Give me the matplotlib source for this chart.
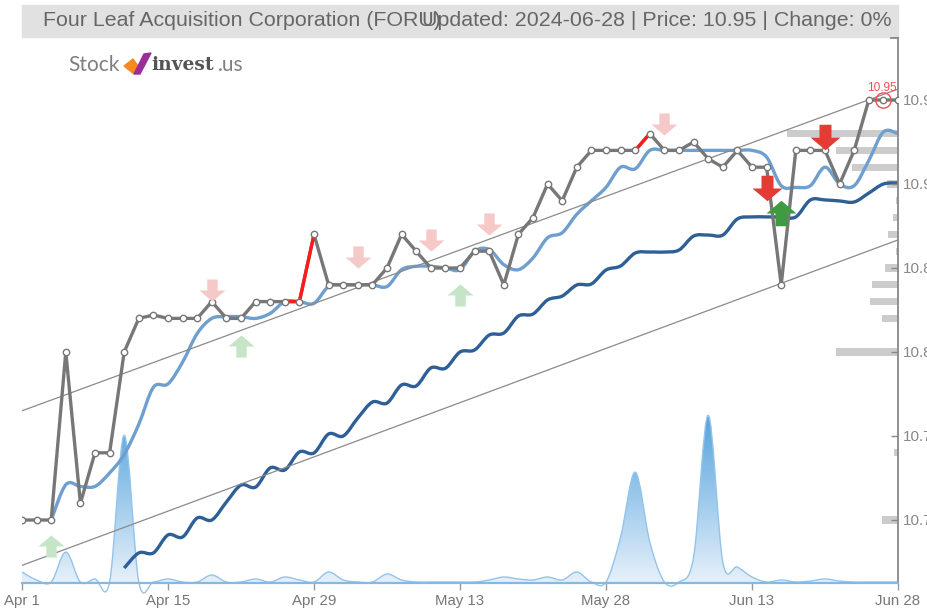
import numpy as np
import matplotlib
matplotlib.use("Agg")
import matplotlib.pyplot as plt
from matplotlib.path import Path
from matplotlib.patches import PathPatch, Rectangle, Polygon
from matplotlib.colors import LinearSegmentedColormap

# --- donnees (index = jour de bourse) ---
tick_idx = [0, 10, 20, 30, 40, 50, 60]
tick_labels = ["Apr 1", "Apr 15", "Apr 29", "May 13", "May 28", "Jun 13", "Jun 28"]

price = [10.70, 10.70, 10.70, 10.80, 10.71, 10.74, 10.74, 10.80, 10.82, 10.822,
         10.82, 10.82, 10.82, 10.83, 10.82, 10.82, 10.83, 10.83, 10.83, 10.83,
         10.87, 10.84, 10.84, 10.84, 10.84, 10.85, 10.87, 10.86, 10.85, 10.85,
         10.85, 10.86, 10.86, 10.84, 10.87, 10.88, 10.90, 10.89, 10.91, 10.92,
         10.92, 10.92, 10.92, 10.93, 10.92, 10.92, 10.925, 10.915, 10.91, 10.92,
         10.91, 10.91, 10.84, 10.92, 10.92, 10.92, 10.90, 10.92, 10.95, 10.95,
         10.95]

ma_fast = [np.nan, np.nan, 10.700, 10.721, 10.720, 10.720, 10.728, 10.739, 10.757, 10.779,
           10.781, 10.794, 10.811, 10.820, 10.821, 10.821, 10.820, 10.823, 10.830, 10.830,
           10.829, 10.839, 10.840, 10.840, 10.840, 10.839, 10.849, 10.851, 10.851, 10.850,
           10.849, 10.860, 10.861, 10.852, 10.849, 10.856, 10.868, 10.871, 10.882, 10.890,
           10.898, 10.910, 10.909, 10.920, 10.920, 10.920, 10.920, 10.920, 10.920, 10.920,
           10.920, 10.916, 10.899, 10.898, 10.899, 10.910, 10.900, 10.899, 10.914, 10.931,
           10.930]

ma_slow = [np.nan] * 7 + [
    10.6714, 10.6804, 10.6804,
    10.6911, 10.6899, 10.7012, 10.7000, 10.7107, 10.7208, 10.7196, 10.7310, 10.7298, 10.7405,
    10.7399, 10.7512, 10.7500, 10.7607, 10.7702, 10.7696, 10.7804, 10.7798, 10.7905, 10.7903,
    10.8000, 10.8012, 10.8101, 10.8113, 10.8214, 10.8226, 10.8310, 10.8333, 10.8399, 10.8405,
    10.8488, 10.8512, 10.8589, 10.8595, 10.8595, 10.8607, 10.8690, 10.8696, 10.8696, 10.8792,
    10.8804, 10.8804, 10.8804, 10.8804, 10.8905, 10.8905, 10.8899, 10.8893, 10.8946, 10.9000,
    10.9006]

volume = [10, 2, 0, 30, 0, 3, 0, 147, 0, 0,
          3, 0, 0, 7, 0, 0, 3, 0, 5, 2,
          0, 10, 2, 0, 0, 8, 2, 0, 0, 0,
          0, 0, 2, 5, 3, 2, 5, 2, 10, 0,
          0, 45, 110, 40, 0, 0, 25, 167, 20, 15,
          5, 0, 2, 0, 1, 3, 1, 0, 0, 0,
          0]

# segments rouges du cours
red_segments = [(18, 20), (42, 43)]

# canal de tendance
trend_idx = [0, 60]
trend_upper = [10.765, 10.9565]
trend_lower = [10.673, 10.8667]

# profil de volume (barres horizontales a droite)
prof_price = [10.93, 10.92, 10.91, 10.90, 10.89, 10.88, 10.87, 10.86, 10.85, 10.84,
              10.83, 10.82, 10.80, 10.74, 10.70]
prof_vol = [111, 62, 46, 11, 2, 5, 10, 2, 13, 26, 28, 16, 62, 4, 16]

# signaux achat / vente
sig_idx = [2, 13, 15, 23, 28, 30, 32, 44, 51, 52, 55]
sig_price = [10.6846, 10.837, 10.8036, 10.8566, 10.8667, 10.834, 10.876, 10.936,
             10.8976, 10.8827, 10.928]
sig_kind = ["buy_weak", "sell_weak", "buy_weak", "sell_weak", "sell_weak", "buy_weak",
            "sell_weak", "sell_weak", "sell", "buy", "sell"]

last_idx = 59
last_price = 10.95

W, H = 928, 608
GRIS = "#777777"


def courbe_lisse(x, y):
    """Catmull-Rom -> Bezier, comme une courbe cardinale."""
    pts = np.column_stack([x, y]).astype(float)
    ext = np.vstack([pts[0], pts, pts[-1]])
    verts = [pts[0]]
    codes = [Path.MOVETO]
    for k in range(len(pts) - 1):
        p0, p1, p2, p3 = ext[k], ext[k + 1], ext[k + 2], ext[k + 3]
        verts += [p1 + (p2 - p0) / 6, p2 - (p3 - p1) / 6, p2]
        codes += [Path.CURVE4] * 3
    return verts, codes


def fleche(bas=True, ratio=0.85):
    h = 0.5 * ratio
    v = [(-0.2, h), (0.2, h), (0.2, 0.0), (0.5, 0.0), (0.0, -h), (-0.5, 0.0), (-0.2, 0.0), (-0.2, h)]
    if not bas:
        v = [(a, -b) for a, b in v]
    return Path(v, [Path.MOVETO] + [Path.LINETO] * 6 + [Path.CLOSEPOLY])


fig = plt.figure(figsize=(W / 100, H / 100), dpi=100)
rect = [22 / W, 25 / H, 876 / W, 545 / H]

axv = fig.add_axes(rect, zorder=1)
axp = fig.add_axes(rect, zorder=2)
ax = fig.add_axes(rect, zorder=3)
ax.patch.set_visible(False)
axp.patch.set_visible(False)

x = np.arange(len(price))

# --- volume en aire lissee avec degrade ---
vol = np.array(volume, dtype=float)
verts, codes = courbe_lisse(x, vol)
aire = verts + [(x[-1], 0), (x[0], 0), (x[0], vol[0])]
codes_aire = codes + [Path.LINETO, Path.LINETO, Path.CLOSEPOLY]
patch = PathPatch(Path(aire, codes_aire), facecolor="none", edgecolor="none")
axv.add_patch(patch)
cmap = LinearSegmentedColormap.from_list("vol", ["#eef5fc", "#4f9fda"])
grad = np.linspace(0, 1, 256).reshape(-1, 1)
im = axv.imshow(grad, extent=[0, 60, -10, 175], origin="lower", aspect="auto", cmap=cmap)
im.set_clip_path(patch)
axv.add_patch(PathPatch(Path(verts, codes), facecolor="none", edgecolor="#93c4ec",
                        lw=1.0, clip_on=False))
axv.set_xlim(0, 60)
axv.set_ylim(-1, 545)
axv.axis("off")

# --- profil de volume ---
axp.barh(prof_price, prof_vol, height=0.0042, left=0, color="#cccccc", edgecolor="none")
axp.set_xlim(876, 0)
axp.set_ylim(10.6625, 10.9869)
axp.axis("off")

# --- prix et moyennes ---
ax.plot([trend_idx[0], trend_idx[1]], trend_upper, color="#8a8a8a", lw=0.9)
ax.plot([trend_idx[0], trend_idx[1]], trend_lower, color="#8a8a8a", lw=0.9)

mf = np.array(ma_fast)
ok = ~np.isnan(mf)
v, c = courbe_lisse(x[ok], mf[ok])
ax.add_patch(PathPatch(Path(v, c), facecolor="none", edgecolor="#6e9fcf", lw=2.4))

ms = np.array(ma_slow)
ok = ~np.isnan(ms)
v, c = courbe_lisse(x[ok], ms[ok])
ax.add_patch(PathPatch(Path(v, c), facecolor="none", edgecolor="#2e5f97", lw=2.4))

ax.plot(x, price, color=GRIS, lw=2.4, zorder=4)
for a, b in red_segments:
    ax.plot(x[a:b + 1], price[a:b + 1], color="#ff1a1a", lw=2.4, zorder=5)
ax.plot(x, price, ls="none", marker="o", ms=4.6, mfc="white", mec=GRIS, mew=1.0, zorder=6)

# dernier cours
ax.plot([last_idx], [last_price], ls="none", marker="o", ms=11, mfc="none", mec="#f05050",
        mew=1.0, zorder=7)
ax.annotate(f"{last_price:.2f}", (last_idx, last_price), xytext=(-1, 4.5), textcoords="offset points",
            ha="center", va="bottom", color="#f05050", fontsize=8.5, family="Liberation Sans",
            zorder=7)

# fleches
styles = {
    "sell_weak": (True, "#f6c9c9", 18.7),
    "buy_weak": (False, "#c6e4c6", 18.7),
    "sell": (True, "#e43b35", 21.6),
    "buy": (False, "#3f9b42", 21.6),
}
for i, p, k in zip(sig_idx, sig_price, sig_kind):
    bas, col, taille = styles[k]
    ax.plot([i], [p], ls="none", marker=fleche(bas), ms=taille, mfc=col, mec="none", zorder=8)

# --- axes ---
ax.set_xlim(0, 60)
ax.set_ylim(10.6625, 10.9869)
ax.set_xticks(tick_idx)
ax.set_xticklabels(tick_labels)
ax.set_yticks([10.70, 10.75, 10.80, 10.85, 10.90, 10.95])
ax.set_yticklabels([f"{t:.2f}" for t in [10.70, 10.75, 10.80, 10.85, 10.90, 10.95]])
ax.yaxis.tick_right()
for s in ["top", "left"]:
    ax.spines[s].set_visible(False)
ax.spines["right"].set_color("#888888")
ax.spines["right"].set_linewidth(1.3)
ax.spines["bottom"].set_color("#86b8e4")
ax.spines["bottom"].set_linewidth(1.6)
ax.tick_params(axis="x", direction="out", length=5, width=1, color="#999999",
               labelcolor="#777777", labelsize=10.8, pad=3)
ax.tick_params(axis="y", direction="in", length=5, width=1, color="#888888",
               labelcolor="#888888", labelsize=11, pad=3.5)
for t in ax.get_xticklabels() + ax.get_yticklabels():
    t.set_family("Liberation Sans")
# petit trait en haut de l'axe de droite
ax.plot([0.992, 1.0], [1.0, 1.0], transform=ax.transAxes, color="#888888", lw=1.3, clip_on=False)

# --- bandeau titre ---
fig.patches.append(Rectangle((22 / W, 1 - 37 / H), 876 / W, 32 / H, transform=fig.transFigure,
                             color="#e1e1e1", zorder=0))
fig.text(43 / W, 1 - 21 / H, "Four Leaf Acquisition Corporation (FORU)", ha="left", va="center",
         color="#666666", fontsize=15.4, family="Liberation Sans")
fig.text(892 / W, 1 - 21 / H, "Updated: 2024-06-28 | Price: 10.95 | Change: 0%", ha="right",
         va="center", color="#666666", fontsize=15.4, family="Liberation Sans")

# --- logo ---
fig.text(68 / W, 1 - 65 / H, "Stock", ha="left", va="center", color="#808080", fontsize=15,
         family="Lato")
fig.patches.append(Polygon([(124 / W, 1 - 66 / H), (133 / W, 1 - 59 / H), (138 / W, 1 - 66 / H),
                            (134 / W, 1 - 74 / H)], closed=True, transform=fig.transFigure,
                           color="#f58a1f"))
fig.patches.append(Polygon([(134 / W, 1 - 74 / H), (144 / W, 1 - 54 / H), (151 / W, 1 - 53 / H),
                            (140 / W, 1 - 74 / H)], closed=True, transform=fig.transFigure,
                           color="#9b2d9b"))
fig.text(151 / W, 1 - 65 / H, "invest", ha="left", va="center", color="#555555", fontsize=13.5,
         family="DejaVu Serif", weight="bold")
fig.text(218 / W, 1 - 65 / H, ".us", ha="left", va="center", color="#808080", fontsize=15,
         family="Lato")

fig.savefig("out.png", dpi=100)
